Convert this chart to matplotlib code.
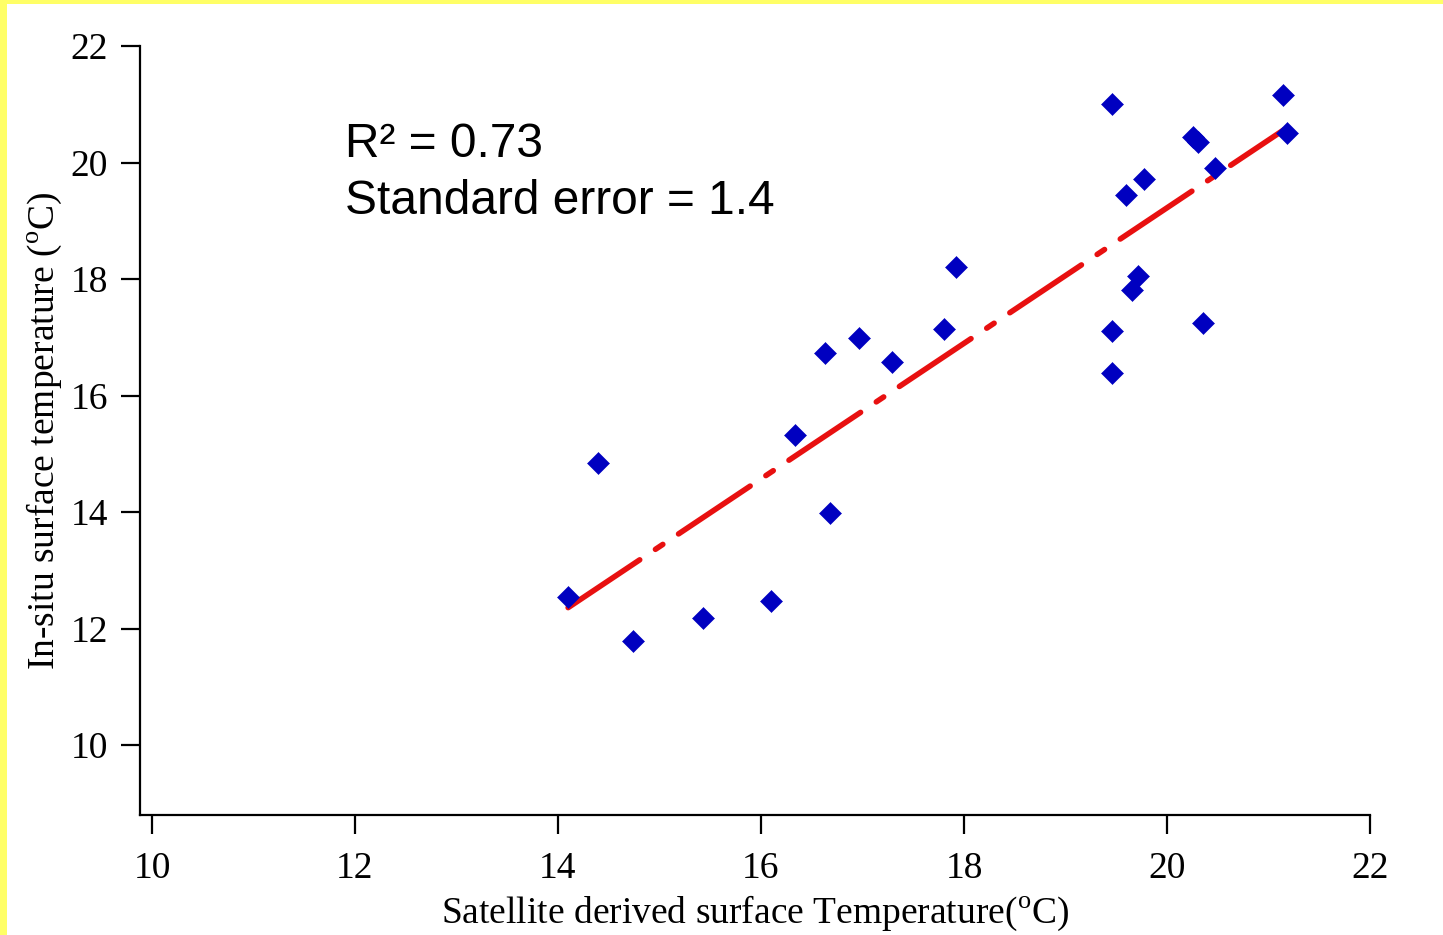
import matplotlib
matplotlib.use("Agg")
import matplotlib.pyplot as plt
from matplotlib.patches import Rectangle

# satellite derived vs in-situ surface temperature (deg C)
sat_temp = [14.10, 14.39, 14.74, 15.43, 16.10, 16.34, 16.63, 16.68, 16.97, 17.29,
            17.80, 17.92, 19.46, 19.46, 19.46, 19.60, 19.66, 19.71, 19.77, 20.26,
            20.31, 20.35, 20.47, 21.14, 21.18]
insitu_temp = [12.55, 14.85, 11.79, 12.19, 12.48, 15.33, 16.73, 13.99, 16.98, 16.57,
               17.15, 18.20, 21.00, 17.10, 16.38, 19.44, 17.81, 18.05, 19.71, 20.44,
               20.35, 17.24, 19.90, 21.16, 20.51]

# regression line end points
fit_x = [14.10, 21.15]
fit_y = [12.36, 20.56]

x_ticks = [10, 12, 14, 16, 18, 20, 22]
y_ticks = [10, 12, 14, 16, 18, 20, 22]

plt.rcParams['mathtext.fontset'] = 'custom'
plt.rcParams['mathtext.rm'] = 'Liberation Serif'
serif = 'Liberation Serif'

fig = plt.figure(figsize=(14.43, 9.35), dpi=100)
ax = fig.add_axes([0.0970, 0.1283, 0.8524, 0.8225])

# yellow frame on the left and top edge
fig.patches.append(Rectangle((0, 0), 7 / 1443, 1, transform=fig.transFigure,
                             facecolor='#ffff66', edgecolor='none'))
fig.patches.append(Rectangle((0, 1 - 4 / 935), 1, 4 / 935, transform=fig.transFigure,
                             facecolor='#ffff66', edgecolor='none'))

ax.plot(fit_x, fit_y, color='#e81010', lw=4, solid_capstyle='round',
        dash_capstyle='round', linestyle=(0, (15.5, 3.4, 1.6, 3.4)), zorder=2)
ax.plot(sat_temp, insitu_temp, linestyle='none', marker='D', markersize=11,
        color='#0000c0', markeredgewidth=0.4, zorder=3)

ax.set_xlim(9.882, 22)
ax.set_ylim(8.8, 22)
ax.set_xticks(x_ticks)
ax.set_yticks(y_ticks)

for side in ['top', 'right']:
    ax.spines[side].set_visible(False)
for side in ['left', 'bottom']:
    ax.spines[side].set_linewidth(1.6)
ax.tick_params(direction='out', length=14, width=1.6, pad=9, labelsize=27)
ax.tick_params(axis='x', pad=12)
for lbl in ax.get_xticklabels() + ax.get_yticklabels():
    lbl.set_fontfamily(serif)

ax.set_xlabel('Satellite derived surface Temperature($^{\\mathrm{o}}$C)',
              fontsize=27, fontfamily=serif, labelpad=6)
ax.set_ylabel('In-situ surface temperature ($^{\\mathrm{o}}$C)',
              fontsize=27, fontfamily=serif, labelpad=5)

ax.text(11.90, 20.09, 'R\u00b2 = 0.73', fontsize=34.5,
        fontfamily='Liberation Sans', va='baseline')
ax.text(11.90, 19.11, 'Standard error = 1.4', fontsize=34.5,
        fontfamily='Liberation Sans', va='baseline')

fig.savefig('out.png', dpi=100)
